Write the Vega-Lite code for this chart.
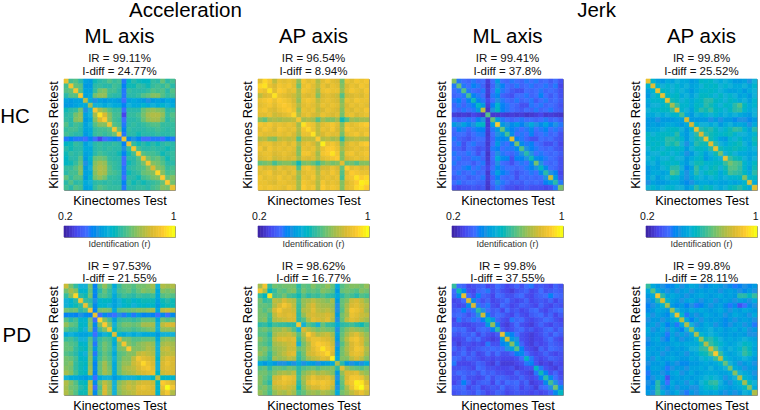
{
"$schema":"https://vega.github.io/schema/vega-lite/v6.json",
"padding":{"left":0,"top":0,"right":0,"bottom":0},
"background":"white",
"config":{"font":"Liberation Sans","view":{"stroke":"#8a8a8a","strokeWidth":1},
"rect":{"strokeWidth":0.6},
"range":{"heatmap":["#3e26a8","#4746eb","#3e6eff","#1f92e2","#12b1d7","#2ab9a9","#64c17a","#a3bd4e","#d9ba33","#fcca2f","#f9fb15"]},
"axis":{"labels":false,"ticks":false,"domain":false,"grid":false,"title":null,"titleFontSize":12.8,"titleFontWeight":"normal","titleColor":"#000","titlePadding":4},
"title":{"fontSize":20.5,"fontWeight":"normal","color":"#000","anchor":"middle","subtitleFontSize":11.5,"subtitleColor":"#111","subtitleLineHeight":13,"subtitlePadding":6,"offset":1}},
"datasets":{
"a":[88,64,66,60,48,46,58,60,62,66,62,64,38,56,60,58,56,56,62,60,68,60,64,
64,90,68,66,46,46,60,62,60,60,64,62,40,58,58,62,60,58,62,64,62,66,60,
66,68,90,66,48,48,62,70,72,64,64,60,38,62,60,60,60,62,66,64,66,60,66,
60,66,66,92,48,50,70,74,74,62,60,60,38,60,60,62,66,68,72,72,66,62,64,
48,46,48,48,80,50,44,48,46,48,48,46,36,48,50,48,46,44,46,48,46,50,48,
46,46,48,50,50,76,52,52,50,52,50,50,40,52,50,50,54,50,52,50,54,52,50,
58,60,62,70,44,52,90,76,72,66,62,62,36,60,60,60,68,72,74,72,70,60,62,
60,62,70,74,48,52,76,96,84,72,64,64,28,62,62,64,70,76,78,78,74,62,66,
62,60,72,74,46,50,72,84,92,72,64,62,36,60,60,62,68,74,76,76,70,60,64,
66,60,64,62,48,52,66,72,72,90,66,64,38,60,62,60,62,64,66,66,62,62,62,
62,64,64,60,48,50,62,64,64,66,90,68,40,62,60,60,60,62,62,64,62,60,62,
64,62,60,60,46,50,62,64,62,64,68,90,38,60,60,58,60,60,60,62,60,60,62,
38,40,38,38,36,40,36,28,36,38,40,38,88,40,44,40,36,36,38,38,36,40,38,
56,58,62,60,48,52,60,62,60,60,62,60,40,88,62,58,60,58,60,58,60,62,60,
60,58,60,60,50,50,60,62,60,62,60,60,44,62,90,64,60,60,62,60,60,58,60,
58,62,60,62,48,50,60,64,62,60,60,58,40,58,64,92,66,64,64,62,58,60,62,
56,60,60,66,46,54,68,70,68,62,60,60,36,60,60,66,88,70,66,68,64,58,62,
56,58,62,68,44,50,72,76,74,64,62,60,36,58,60,64,70,90,72,70,66,60,60,
62,62,66,72,46,52,74,78,76,66,62,60,38,60,62,64,66,72,84,72,70,62,64,
60,64,64,72,48,50,72,78,76,66,64,62,38,58,60,62,68,70,72,94,72,64,66,
68,62,66,66,46,54,70,74,70,62,62,60,36,60,60,58,64,66,70,72,92,68,72,
60,66,60,62,50,52,60,62,60,62,60,60,40,62,58,60,58,60,62,64,68,92,70,
64,60,66,64,48,50,62,66,64,62,62,62,38,60,60,62,62,60,64,66,72,70,88],
"b":[86,94,90,80,88,86,88,86,74,90,86,88,78,86,90,86,84,70,88,86,90,88,90,
94,96,88,84,90,88,90,86,70,88,90,86,80,88,84,88,86,72,84,88,86,90,88,
90,88,96,86,92,90,86,88,76,90,88,86,76,88,90,88,88,74,86,90,88,86,90,
80,84,86,96,88,86,84,82,76,86,84,86,72,84,86,84,82,66,82,84,86,84,88,
88,90,92,88,92,90,88,84,74,88,90,88,80,86,88,86,84,72,88,86,90,88,88,
86,88,90,86,90,92,90,86,78,86,88,86,82,88,86,88,86,74,84,88,86,88,86,
88,90,86,84,88,90,92,88,74,88,86,88,80,84,88,86,84,72,86,84,88,86,90,
86,86,88,82,84,86,88,94,78,86,88,84,82,88,86,84,86,70,86,88,84,86,88,
72,68,76,78,76,78,78,80,90,76,78,76,66,76,72,72,76,58,66,76,74,76,76,
90,88,90,86,88,86,88,86,76,96,90,88,80,86,88,90,86,72,88,86,88,90,92,
86,90,88,84,90,88,86,88,78,90,94,88,80,88,86,90,84,74,90,88,86,88,88,
88,86,86,86,88,86,88,84,76,88,88,96,80,84,88,86,86,70,86,88,90,86,90,
78,80,74,72,80,82,80,82,66,80,80,80,92,78,80,76,78,60,76,78,80,78,78,
86,88,88,84,86,88,84,88,76,86,88,84,78,98,88,90,86,72,84,88,86,90,92,
90,84,90,86,88,86,88,86,72,88,86,88,80,88,92,92,88,76,84,86,88,86,88,
86,88,88,84,86,88,86,84,72,90,90,86,76,90,92,96,90,72,88,90,86,88,90,
84,86,88,82,84,86,84,86,76,86,84,86,78,86,88,90,92,72,84,86,88,86,88,
68,70,72,64,70,72,72,68,58,70,72,68,62,70,74,70,72,86,68,70,66,72,72,
88,84,86,82,88,84,86,86,66,88,90,86,76,84,84,88,84,68,92,86,88,84,86,
86,88,90,84,86,88,84,88,76,86,88,88,78,88,86,90,86,66,86,92,90,88,88,
90,86,88,86,90,86,88,84,74,88,86,90,80,86,88,86,88,64,88,90,96,92,94,
88,88,86,84,88,88,86,86,76,90,88,86,78,90,86,88,86,72,84,88,92,98,96,
90,88,90,88,88,86,90,88,76,92,88,90,78,92,88,90,88,72,86,88,94,96,92],
"c":[72,38,36,34,38,34,36,26,36,46,36,34,38,36,34,38,36,38,34,36,32,36,30,
38,68,38,36,40,38,34,25,34,44,40,36,34,38,34,36,38,34,36,38,34,38,28,
36,38,66,38,36,34,38,26,36,48,38,36,32,30,30,36,34,36,38,34,36,34,30,
34,36,38,64,40,38,36,25,38,42,34,32,30,36,36,38,34,36,40,36,32,36,30,
38,40,36,40,58,40,38,28,36,44,38,36,34,38,34,36,38,32,36,38,34,36,32,
34,38,34,38,40,56,46,26,40,54,40,38,36,34,30,30,38,36,38,34,36,34,30,
36,34,38,36,38,46,80,24,44,56,40,38,36,34,32,36,34,38,34,36,38,34,32,
26,25,26,25,28,26,24,66,25,25,26,25,26,25,26,24,25,26,28,25,26,25,24,
36,34,36,38,36,40,44,25,68,48,38,36,34,36,38,36,36,34,36,38,34,36,32,
46,44,48,42,44,54,56,25,48,92,46,44,42,46,40,44,50,44,42,48,40,44,38,
36,40,38,34,38,40,40,26,38,46,68,46,40,38,36,38,42,36,38,40,36,38,34,
34,36,36,32,36,38,38,25,36,44,46,64,42,36,38,36,40,34,36,38,34,36,30,
38,34,32,30,34,36,36,26,34,42,40,42,86,40,38,34,30,30,36,34,36,32,30,
36,38,30,36,38,34,34,25,36,46,38,36,40,70,42,38,40,36,34,30,30,34,28,
34,34,30,36,34,30,32,26,38,40,36,38,38,42,66,44,40,38,36,34,36,32,30,
38,36,36,38,36,30,36,24,36,44,38,36,34,38,44,60,44,36,38,36,34,36,32,
36,38,34,34,38,38,34,25,36,50,42,40,30,40,40,44,58,42,40,38,36,34,30,
38,34,36,36,32,36,38,26,34,44,36,34,30,36,38,36,42,70,44,36,34,36,30,
34,36,38,40,36,38,34,28,36,42,38,36,36,34,36,38,40,44,56,42,36,34,30,
36,38,34,36,38,34,36,25,38,48,40,38,34,30,34,36,38,36,42,60,44,40,28,
32,34,36,32,34,36,38,26,34,40,36,34,36,30,36,34,36,34,36,44,82,46,30,
36,38,34,36,36,34,34,25,36,44,38,36,32,34,32,36,34,36,34,40,46,60,38,
30,28,30,30,32,30,32,24,32,38,34,30,30,28,30,32,30,30,30,28,30,38,70],
"d":[88,54,48,46,50,48,52,50,50,46,48,56,54,56,52,50,52,50,46,46,48,44,52,
54,86,54,52,54,52,54,50,52,48,50,52,56,54,56,52,54,52,50,50,52,48,54,
48,54,88,56,54,52,54,52,50,46,50,54,54,56,54,52,50,48,48,50,46,50,52,
46,52,56,88,56,54,56,50,52,48,52,56,56,54,52,56,52,54,52,48,50,46,52,
50,54,54,56,88,58,56,52,54,50,54,56,60,60,56,54,52,56,54,50,52,48,54,
48,52,52,54,58,76,62,54,54,50,56,54,60,58,54,52,56,54,60,66,56,50,54,
52,54,54,56,56,62,86,54,52,48,56,60,58,62,56,54,52,56,60,62,54,50,52,
50,50,52,50,52,54,54,64,50,46,52,50,54,52,54,50,52,50,52,50,48,46,52,
46,46,44,46,46,46,48,48,84,46,46,46,46,44,46,44,46,46,42,44,44,42,46,
46,48,46,48,50,50,48,46,50,84,54,52,52,50,52,46,50,52,48,50,48,44,50,
48,50,50,52,54,56,56,52,46,54,88,60,58,60,56,52,54,58,62,60,54,48,60,
56,52,54,56,56,54,60,50,46,52,60,84,60,58,56,54,56,58,54,52,52,50,54,
54,56,54,56,60,60,58,54,46,52,58,60,88,58,54,48,46,54,52,56,50,50,58,
56,54,56,54,60,58,62,52,44,50,60,58,58,86,60,52,50,54,56,58,52,48,56,
52,56,54,52,56,54,56,54,46,52,56,56,54,60,88,58,54,56,58,56,54,50,52,
50,52,52,56,54,52,54,50,44,46,52,54,48,52,58,70,52,56,52,50,50,48,50,
52,54,50,52,52,56,52,52,46,50,54,56,46,50,54,52,88,62,58,56,52,48,52,
50,52,48,54,56,54,56,50,46,52,58,58,54,54,56,56,62,70,66,64,54,50,56,
46,50,48,52,54,60,60,52,42,48,62,54,52,56,58,52,58,66,66,62,54,48,58,
46,50,50,48,50,66,62,50,44,50,60,52,56,58,56,50,56,64,62,60,56,50,60,
48,52,46,50,52,56,54,48,44,48,54,52,50,52,54,50,52,54,54,56,72,54,56,
44,48,46,46,48,50,50,46,42,44,48,50,50,48,50,48,48,50,48,50,54,86,50,
52,54,50,52,54,54,52,52,46,50,60,54,58,56,52,50,52,56,58,60,56,50,86],
"e":[82,70,62,52,52,70,40,66,74,66,50,62,68,68,66,70,70,72,76,52,78,76,78,
70,76,72,54,54,68,42,60,68,62,52,64,66,68,64,68,72,70,72,50,72,70,72,
62,72,94,60,58,70,40,64,66,62,50,60,64,62,60,64,62,62,64,50,66,68,66,
52,54,60,90,62,60,44,54,56,56,48,52,56,58,54,56,58,58,58,48,58,60,58,
52,54,58,62,88,64,42,54,54,52,48,52,54,56,52,54,56,54,56,46,56,58,58,
70,68,70,60,64,90,40,70,72,70,50,66,68,68,70,72,72,74,76,50,80,82,80,
40,42,40,44,42,40,88,36,42,38,36,44,38,46,38,46,40,42,40,36,42,36,42,
66,60,64,54,54,70,36,94,72,64,48,62,64,64,62,64,68,68,68,50,70,66,68,
74,68,66,56,54,72,42,72,92,72,52,66,70,70,68,70,76,76,76,52,80,84,84,
66,62,62,56,52,70,38,64,72,90,56,64,66,66,64,66,68,70,72,52,74,74,74,
50,52,50,48,48,50,36,48,52,56,86,54,50,52,50,52,50,50,50,46,52,52,52,
62,64,60,52,52,66,44,62,66,64,54,84,70,70,66,66,68,68,68,50,72,74,72,
68,66,64,56,54,68,38,64,70,66,50,70,90,72,68,72,74,76,74,52,76,78,76,
68,68,62,58,56,68,46,64,70,66,52,70,72,92,72,72,74,78,76,52,80,82,78,
66,64,60,54,52,70,38,62,68,64,50,66,68,72,72,80,82,80,78,52,78,80,80,
70,68,64,56,54,72,46,64,70,66,52,66,72,72,80,90,86,84,82,54,82,86,84,
70,72,62,58,56,72,40,68,76,68,50,68,74,74,82,86,94,88,84,52,84,88,84,
72,70,62,58,54,74,42,68,76,70,50,68,76,78,80,84,88,90,86,52,84,86,84,
76,72,64,58,56,76,40,68,76,72,50,68,74,76,78,82,84,86,88,56,82,84,84,
52,50,50,48,46,50,36,50,52,52,46,50,52,52,52,54,52,52,56,80,56,54,54,
78,72,66,58,56,80,42,70,80,74,52,72,76,80,78,82,84,84,82,56,92,88,84,
76,70,68,60,58,82,36,66,84,74,52,74,78,82,80,86,88,86,84,54,88,100,90,
78,72,66,58,58,80,42,68,84,74,52,72,76,78,80,84,84,84,84,54,84,90,78],
"f":[76,90,62,70,68,70,70,70,60,68,66,72,68,70,74,68,50,66,70,72,72,70,74,
90,78,56,62,68,66,70,72,62,70,66,68,66,72,70,66,46,68,70,68,66,72,70,
62,56,96,64,66,70,64,62,58,66,60,64,62,66,62,60,50,60,66,64,60,66,64,
70,62,64,80,78,84,80,78,64,74,76,80,76,74,72,76,46,68,72,82,84,80,74,
68,68,66,78,84,90,86,80,62,74,80,84,78,76,76,74,44,68,76,84,86,82,78,
70,66,70,84,90,84,84,82,62,78,80,86,80,78,80,76,44,66,78,90,88,84,76,
70,70,64,80,86,84,86,84,60,74,82,84,82,82,84,80,46,70,76,88,86,82,80,
70,72,62,78,80,82,84,84,60,66,78,86,84,82,86,78,44,68,80,86,84,80,76,
60,62,58,64,62,62,60,60,90,52,66,62,52,68,62,60,50,60,62,64,60,58,64,
68,70,66,74,74,78,74,66,52,84,78,74,70,72,70,68,44,66,72,76,74,72,68,
66,66,60,76,80,80,82,78,66,78,92,84,78,80,82,76,48,68,76,82,86,80,74,
72,68,64,80,84,86,84,86,62,74,84,88,88,86,84,80,46,70,80,88,90,84,76,
68,66,62,76,78,80,82,84,52,70,78,88,92,90,88,82,44,66,76,84,88,84,74,
70,72,66,74,76,78,82,82,68,72,80,86,90,96,90,86,46,70,78,84,90,88,78,
74,70,62,72,76,80,84,86,62,70,82,84,88,90,94,84,48,70,76,86,88,86,76,
68,66,60,76,74,76,80,78,60,68,76,80,82,86,84,98,50,72,72,80,84,80,72,
50,46,50,46,44,44,46,44,50,44,48,46,44,46,48,50,78,60,46,44,46,44,50,
66,68,60,68,68,66,70,68,60,66,68,70,66,70,70,72,60,86,74,70,68,66,70,
70,70,66,72,76,78,76,80,62,72,76,80,76,78,76,72,46,74,84,84,86,78,74,
72,68,64,82,84,90,88,86,64,76,82,88,84,84,86,80,44,70,84,90,90,88,80,
72,66,60,84,86,88,86,84,60,74,86,90,88,90,88,84,46,68,86,90,98,96,84,
70,72,66,80,82,84,82,80,58,72,80,84,84,88,86,80,44,66,78,88,96,100,88,
74,70,64,74,78,76,80,76,64,68,74,76,74,78,76,72,50,70,74,80,84,88,82],
"g":[62,36,34,28,30,32,34,28,30,36,32,28,30,34,30,36,38,30,32,30,28,34,30,
36,58,42,30,28,34,36,38,30,34,30,28,26,30,32,34,28,30,36,30,32,34,32,
34,42,88,36,30,40,34,32,28,36,34,30,30,34,36,30,28,32,34,36,40,36,34,
28,30,36,84,42,34,30,34,28,30,32,36,30,28,30,34,28,30,32,30,34,28,32,
30,28,30,42,84,38,34,38,30,28,36,32,28,30,34,32,30,28,34,30,28,32,30,
32,34,40,34,38,60,44,36,32,34,28,36,30,32,28,30,34,36,30,28,32,34,36,
34,36,34,30,34,44,82,40,32,36,34,30,28,34,30,28,32,34,36,30,34,28,32,
28,38,32,34,38,36,40,56,46,34,30,28,38,34,36,30,28,30,32,36,34,30,28,
30,30,28,28,30,32,32,46,74,40,28,26,30,36,30,28,26,30,34,30,28,32,30,
36,34,36,30,28,34,36,34,40,60,32,28,30,34,36,30,32,28,30,34,36,30,34,
32,30,34,32,36,28,34,30,28,32,88,46,40,36,30,28,26,28,30,34,30,36,32,
28,28,30,36,32,36,30,28,26,28,46,82,46,44,30,28,26,28,28,32,36,30,28,
30,26,30,30,28,30,28,38,30,30,40,46,72,48,34,28,26,30,28,30,34,32,30,
34,30,34,28,30,32,34,34,36,34,36,44,48,66,40,30,28,26,34,30,36,34,32,
30,32,36,30,34,28,30,36,30,36,30,30,34,40,42,36,30,28,30,34,30,28,30,
36,34,30,34,32,30,28,30,28,30,28,28,28,30,36,56,38,30,28,30,34,32,30,
38,28,28,28,30,34,32,28,26,32,26,26,26,28,30,38,40,30,26,28,26,30,28,
30,30,32,30,28,36,34,30,30,28,28,28,30,26,28,30,30,56,38,30,28,26,30,
32,36,34,32,34,30,36,32,34,30,30,28,28,34,30,28,26,38,58,40,30,34,28,
30,30,36,30,30,28,30,36,30,34,34,32,30,30,34,30,28,30,40,60,42,36,30,
28,32,40,34,28,32,34,34,28,36,30,36,34,36,30,34,26,28,30,42,64,44,34,
34,34,36,28,32,34,28,30,32,30,36,30,32,34,28,32,30,26,34,36,44,70,42,
30,32,34,32,30,36,32,28,30,34,32,28,30,32,30,30,28,30,28,30,34,42,56],
"h":[62,50,46,44,40,42,48,44,46,50,48,44,42,46,48,46,44,42,38,40,44,42,46,
50,66,50,46,44,46,44,46,48,44,46,48,46,48,46,44,46,48,46,44,42,46,44,
46,50,90,60,48,50,48,46,44,46,48,50,48,46,48,50,46,48,46,60,60,56,62,
44,46,60,84,54,48,46,44,48,50,46,44,46,48,44,46,48,46,44,48,46,44,50,
40,44,48,54,76,46,42,46,40,44,38,40,46,44,46,48,42,38,42,30,36,42,44,
42,46,50,48,46,74,52,48,46,50,48,50,48,46,48,50,46,44,48,46,50,48,46,
48,44,48,46,42,52,88,54,38,46,44,46,50,48,46,48,44,46,50,48,46,44,50,
44,46,46,44,46,48,54,78,50,40,48,44,48,46,48,46,42,46,44,46,48,46,44,
46,48,44,48,40,46,38,50,78,52,44,46,50,48,44,46,42,44,46,48,44,46,38,
50,44,46,50,44,50,46,40,52,72,50,48,50,52,48,50,46,48,50,46,50,44,46,
48,46,48,46,38,48,44,48,44,50,78,54,50,52,50,48,46,48,46,48,46,44,44,
44,48,50,44,40,50,46,44,46,48,54,74,58,60,56,52,48,50,48,50,52,50,48,
42,46,48,46,46,48,50,48,50,50,50,58,78,62,58,54,50,48,50,52,56,54,50,
46,48,46,48,44,46,48,46,48,52,52,60,62,82,66,52,48,52,50,54,60,56,48,
48,46,48,44,46,48,46,48,44,48,50,56,58,66,92,62,50,48,50,52,62,58,50,
46,44,50,46,48,50,48,46,46,50,48,52,54,52,62,80,54,50,48,50,52,50,46,
44,46,46,48,42,46,44,42,42,46,46,48,50,48,50,54,68,52,48,44,46,48,44,
42,48,48,46,38,44,46,46,44,48,48,50,48,52,48,50,52,70,50,48,44,46,46,
38,46,46,44,42,48,50,44,46,50,46,48,50,50,50,48,48,50,72,52,50,48,44,
40,44,48,48,30,46,48,46,48,46,48,50,52,54,52,50,44,48,52,78,54,50,46,
44,42,60,46,36,50,46,48,44,50,46,52,56,60,62,52,46,44,50,54,76,56,52,
42,46,60,44,42,48,44,46,46,44,44,50,54,56,58,50,48,46,48,50,56,72,50,
46,44,62,50,44,46,50,44,38,46,44,48,50,48,50,46,44,46,44,46,52,50,78],
"bar":[20,22,24,26,28,30,32,34,36,38,40,42,44,46,48,50,52,54,56,58,60,62,64,66,68,70,72,74,76,78,80,82,84,86,88,90,92,94,96,98,100]},
"hconcat":[
{"title":{"text":"Acceleration","offset":5},"spacing":63,"hconcat":[
{"spacing":10,"vconcat":[
{"spacing":2,"vconcat":[
{"title":{"text":"HC","orient":"left","angle":0,"offset":-13,"align":"right","baseline":"middle"},"vconcat":[
{"title":{"text":"ML axis","subtitle":["IR = 99.11%","I-diff = 24.77%"]},"width":111,"height":111,"data":{"name":"a"},"transform":[{"window":[{"op":"row_number","as":"i"}]},{"bin":{"step":23,"extent":[1,530],"nice":false},"field":"i","as":"r"},{"window":[{"op":"row_number","as":"c"}],"groupby":["r"]}],"mark":"rect","encoding":{"x":{"field":"c","type":"ordinal","axis":{"title":"Kinectomes Test"}},"y":{"field":"r","type":"ordinal","axis":{"title":"Kinectomes Retest"}},"color":{"field":"data","type":"quantitative","scale":{"domain":[20,100],"range":"heatmap"},"legend":null},"stroke":{"field":"data","type":"quantitative","scale":{"domain":[20,100],"range":"heatmap"},"legend":null}}}]},
{"title":{"text":"Identification (r)","orient":"bottom","fontSize":9,"color":"#333","offset":3},"width":111,"height":11,"data":{"name":"bar"},"mark":"rect","encoding":{"x":{"field":"data","type":"ordinal","axis":{"orient":"top","labels":true,"labelExpr":"datum.value==20?'0.2':datum.value==100?'1':''","labelAngle":0,"labelFontSize":10.5,"labelColor":"#111","labelPadding":5,"labelOverlap":false}},"color":{"field":"data","type":"quantitative","scale":{"domain":[20,100],"range":"heatmap"},"legend":null},"stroke":{"field":"data","type":"quantitative","scale":{"domain":[20,100],"range":"heatmap"},"legend":null}}}]},
{"title":{"text":"PD","orient":"left","angle":0,"offset":-13,"align":"right","baseline":"middle"},"vconcat":[
{"title":{"text":["IR = 97.53%","I-diff = 21.55%"],"fontSize":11.5,"lineHeight":12.5,"color":"#111","offset":-1},"width":111,"height":111,"data":{"name":"e"},"transform":[{"window":[{"op":"row_number","as":"i"}]},{"bin":{"step":23,"extent":[1,530],"nice":false},"field":"i","as":"r"},{"window":[{"op":"row_number","as":"c"}],"groupby":["r"]}],"mark":"rect","encoding":{"x":{"field":"c","type":"ordinal","axis":{"title":"Kinectomes Test"}},"y":{"field":"r","type":"ordinal","axis":{"title":"Kinectomes Retest"}},"color":{"field":"data","type":"quantitative","scale":{"domain":[20,100],"range":"heatmap"},"legend":null},"stroke":{"field":"data","type":"quantitative","scale":{"domain":[20,100],"range":"heatmap"},"legend":null}}}]}
]},
{"spacing":10,"vconcat":[
{"spacing":2,"vconcat":[
{"title":{"text":"AP axis","subtitle":["IR = 96.54%","I-diff = 8.94%"]},"width":111,"height":111,"data":{"name":"b"},"transform":[{"window":[{"op":"row_number","as":"i"}]},{"bin":{"step":23,"extent":[1,530],"nice":false},"field":"i","as":"r"},{"window":[{"op":"row_number","as":"c"}],"groupby":["r"]}],"mark":"rect","encoding":{"x":{"field":"c","type":"ordinal","axis":{"title":"Kinectomes Test"}},"y":{"field":"r","type":"ordinal","axis":{"title":"Kinectomes Retest"}},"color":{"field":"data","type":"quantitative","scale":{"domain":[20,100],"range":"heatmap"},"legend":null},"stroke":{"field":"data","type":"quantitative","scale":{"domain":[20,100],"range":"heatmap"},"legend":null}}},
{"title":{"text":"Identification (r)","orient":"bottom","fontSize":9,"color":"#333","offset":3},"width":111,"height":11,"data":{"name":"bar"},"mark":"rect","encoding":{"x":{"field":"data","type":"ordinal","axis":{"orient":"top","labels":true,"labelExpr":"datum.value==20?'0.2':datum.value==100?'1':''","labelAngle":0,"labelFontSize":10.5,"labelColor":"#111","labelPadding":5,"labelOverlap":false}},"color":{"field":"data","type":"quantitative","scale":{"domain":[20,100],"range":"heatmap"},"legend":null},"stroke":{"field":"data","type":"quantitative","scale":{"domain":[20,100],"range":"heatmap"},"legend":null}}}]},
{"title":{"text":["IR = 98.62%","I-diff = 16.77%"],"fontSize":11.5,"lineHeight":12.5,"color":"#111","offset":-1},"width":111,"height":111,"data":{"name":"f"},"transform":[{"window":[{"op":"row_number","as":"i"}]},{"bin":{"step":23,"extent":[1,530],"nice":false},"field":"i","as":"r"},{"window":[{"op":"row_number","as":"c"}],"groupby":["r"]}],"mark":"rect","encoding":{"x":{"field":"c","type":"ordinal","axis":{"title":"Kinectomes Test"}},"y":{"field":"r","type":"ordinal","axis":{"title":"Kinectomes Retest"}},"color":{"field":"data","type":"quantitative","scale":{"domain":[20,100],"range":"heatmap"},"legend":null},"stroke":{"field":"data","type":"quantitative","scale":{"domain":[20,100],"range":"heatmap"},"legend":null}}}
]}
]},
{"title":{"text":"Jerk","offset":5},"spacing":63,"hconcat":[
{"spacing":10,"vconcat":[
{"spacing":2,"vconcat":[
{"title":{"text":"ML axis","subtitle":["IR = 99.41%","I-diff = 37.8%"]},"width":111,"height":111,"data":{"name":"c"},"transform":[{"window":[{"op":"row_number","as":"i"}]},{"bin":{"step":23,"extent":[1,530],"nice":false},"field":"i","as":"r"},{"window":[{"op":"row_number","as":"c"}],"groupby":["r"]}],"mark":"rect","encoding":{"x":{"field":"c","type":"ordinal","axis":{"title":"Kinectomes Test"}},"y":{"field":"r","type":"ordinal","axis":{"title":"Kinectomes Retest"}},"color":{"field":"data","type":"quantitative","scale":{"domain":[20,100],"range":"heatmap"},"legend":null},"stroke":{"field":"data","type":"quantitative","scale":{"domain":[20,100],"range":"heatmap"},"legend":null}}},
{"title":{"text":"Identification (r)","orient":"bottom","fontSize":9,"color":"#333","offset":3},"width":111,"height":11,"data":{"name":"bar"},"mark":"rect","encoding":{"x":{"field":"data","type":"ordinal","axis":{"orient":"top","labels":true,"labelExpr":"datum.value==20?'0.2':datum.value==100?'1':''","labelAngle":0,"labelFontSize":10.5,"labelColor":"#111","labelPadding":5,"labelOverlap":false}},"color":{"field":"data","type":"quantitative","scale":{"domain":[20,100],"range":"heatmap"},"legend":null},"stroke":{"field":"data","type":"quantitative","scale":{"domain":[20,100],"range":"heatmap"},"legend":null}}}]},
{"title":{"text":["IR = 99.8%","I-diff = 37.55%"],"fontSize":11.5,"lineHeight":12.5,"color":"#111","offset":-1},"width":111,"height":111,"data":{"name":"g"},"transform":[{"window":[{"op":"row_number","as":"i"}]},{"bin":{"step":23,"extent":[1,530],"nice":false},"field":"i","as":"r"},{"window":[{"op":"row_number","as":"c"}],"groupby":["r"]}],"mark":"rect","encoding":{"x":{"field":"c","type":"ordinal","axis":{"title":"Kinectomes Test"}},"y":{"field":"r","type":"ordinal","axis":{"title":"Kinectomes Retest"}},"color":{"field":"data","type":"quantitative","scale":{"domain":[20,100],"range":"heatmap"},"legend":null},"stroke":{"field":"data","type":"quantitative","scale":{"domain":[20,100],"range":"heatmap"},"legend":null}}}
]},
{"spacing":10,"vconcat":[
{"spacing":2,"vconcat":[
{"title":{"text":"AP axis","subtitle":["IR = 99.8%","I-diff = 25.52%"]},"width":111,"height":111,"data":{"name":"d"},"transform":[{"window":[{"op":"row_number","as":"i"}]},{"bin":{"step":23,"extent":[1,530],"nice":false},"field":"i","as":"r"},{"window":[{"op":"row_number","as":"c"}],"groupby":["r"]}],"mark":"rect","encoding":{"x":{"field":"c","type":"ordinal","axis":{"title":"Kinectomes Test"}},"y":{"field":"r","type":"ordinal","axis":{"title":"Kinectomes Retest"}},"color":{"field":"data","type":"quantitative","scale":{"domain":[20,100],"range":"heatmap"},"legend":null},"stroke":{"field":"data","type":"quantitative","scale":{"domain":[20,100],"range":"heatmap"},"legend":null}}},
{"title":{"text":"Identification (r)","orient":"bottom","fontSize":9,"color":"#333","offset":3},"width":111,"height":11,"data":{"name":"bar"},"mark":"rect","encoding":{"x":{"field":"data","type":"ordinal","axis":{"orient":"top","labels":true,"labelExpr":"datum.value==20?'0.2':datum.value==100?'1':''","labelAngle":0,"labelFontSize":10.5,"labelColor":"#111","labelPadding":5,"labelOverlap":false}},"color":{"field":"data","type":"quantitative","scale":{"domain":[20,100],"range":"heatmap"},"legend":null},"stroke":{"field":"data","type":"quantitative","scale":{"domain":[20,100],"range":"heatmap"},"legend":null}}}]},
{"title":{"text":["IR = 99.8%","I-diff = 28.11%"],"fontSize":11.5,"lineHeight":12.5,"color":"#111","offset":-1},"width":111,"height":111,"data":{"name":"h"},"transform":[{"window":[{"op":"row_number","as":"i"}]},{"bin":{"step":23,"extent":[1,530],"nice":false},"field":"i","as":"r"},{"window":[{"op":"row_number","as":"c"}],"groupby":["r"]}],"mark":"rect","encoding":{"x":{"field":"c","type":"ordinal","axis":{"title":"Kinectomes Test"}},"y":{"field":"r","type":"ordinal","axis":{"title":"Kinectomes Retest"}},"color":{"field":"data","type":"quantitative","scale":{"domain":[20,100],"range":"heatmap"},"legend":null},"stroke":{"field":"data","type":"quantitative","scale":{"domain":[20,100],"range":"heatmap"},"legend":null}}}
]}
]}
],"spacing":63}
